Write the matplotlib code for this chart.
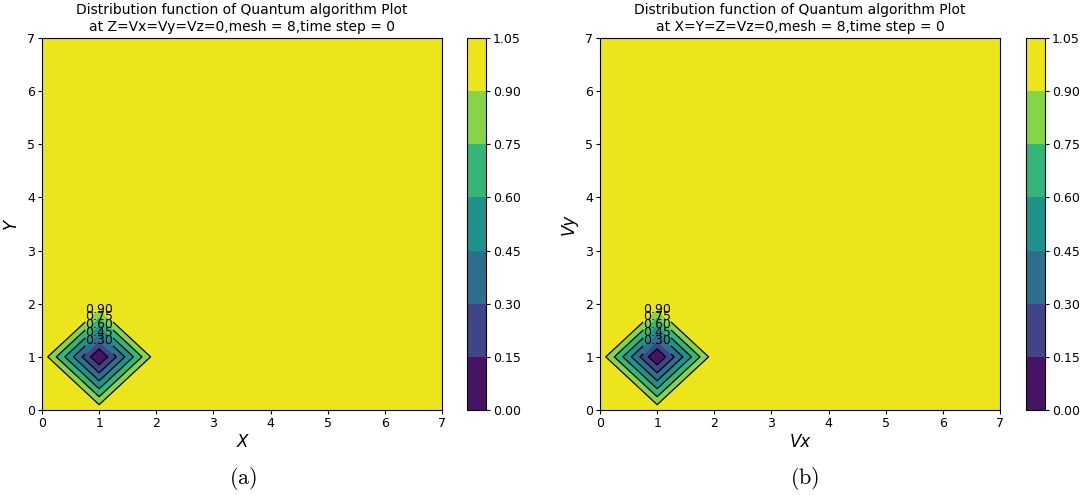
import numpy as np
import matplotlib
matplotlib.use('Agg')
import matplotlib.pyplot as plt

plt.rcParams['mathtext.fontset'] = 'cm'

# grid coordinates (mesh = 8)
grid = [0, 1, 2, 3, 4, 5, 6, 7]

# distribution function values, slice (a): X-Y plane, slice (b): Vx-Vy plane
f_xy = [
    [1, 1, 1, 1, 1, 1, 1, 1],
    [1, 0, 1, 1, 1, 1, 1, 1],
    [1, 1, 1, 1, 1, 1, 1, 1],
    [1, 1, 1, 1, 1, 1, 1, 1],
    [1, 1, 1, 1, 1, 1, 1, 1],
    [1, 1, 1, 1, 1, 1, 1, 1],
    [1, 1, 1, 1, 1, 1, 1, 1],
    [1, 1, 1, 1, 1, 1, 1, 1],
]
f_vxvy = [
    [1, 1, 1, 1, 1, 1, 1, 1],
    [1, 0, 1, 1, 1, 1, 1, 1],
    [1, 1, 1, 1, 1, 1, 1, 1],
    [1, 1, 1, 1, 1, 1, 1, 1],
    [1, 1, 1, 1, 1, 1, 1, 1],
    [1, 1, 1, 1, 1, 1, 1, 1],
    [1, 1, 1, 1, 1, 1, 1, 1],
    [1, 1, 1, 1, 1, 1, 1, 1],
]
levels = [0.0, 0.15, 0.30, 0.45, 0.60, 0.75, 0.90, 1.05]

titles = ['Distribution function of Quantum algorithm Plot\nat Z=Vx=Vy=Vz=0,mesh = 8,time step = 0',
          'Distribution function of Quantum algorithm Plot\nat X=Y=Z=Vz=0,mesh = 8,time step = 0']
xlabels = ['X', 'Vx']
ylabels = ['Y', 'Vy']
captions = ['(a)', '(b)']

band_colors = plt.cm.viridis(np.linspace(0.05, 0.97, len(levels) - 1))

fig = plt.figure(figsize=(10.84, 4.95), dpi=100)
W, H = 1084, 495
panels = [(42, 467, 243), (600, 1026, 805)]

for i, data in enumerate([f_xy, f_vxvy]):
    x0, cx0, capx = panels[i]
    ax = fig.add_axes([x0 / W, 1 - 410 / H, 400 / W, 372 / H])
    cax = fig.add_axes([cx0 / W, 1 - 410 / H, 19 / W, 372 / H])
    X, Y = np.meshgrid(grid, grid)
    Z = np.array(data, dtype=float)
    cf = ax.contourf(X, Y, Z, levels=levels, colors=band_colors)
    cs = ax.contour(X, Y, Z, levels=levels, colors='black', linewidths=0.9)
    ax.clabel(cs, inline=True, fontsize=9, fmt='%.2f')
    cb = fig.colorbar(cf, cax=cax)
    cb.set_ticks(levels)
    cb.ax.tick_params(labelsize=9, length=3, pad=2)
    ax.set_title(titles[i], fontsize=10, pad=5, linespacing=1.3)
    ax.set_xlabel(xlabels[i], fontsize=12, style='italic', labelpad=2)
    ax.set_ylabel(ylabels[i], fontsize=12, style='italic', labelpad=5)
    ax.tick_params(labelsize=9, length=3, pad=2)
    ax.set_xticks(grid)
    ax.set_yticks(grid)
    fig.text(capx / W, 1 - 478 / H, r'$\mathrm{' + captions[i] + '}$', fontsize=16,
             ha='center', va='center')

fig.savefig('out.png', dpi=100)
